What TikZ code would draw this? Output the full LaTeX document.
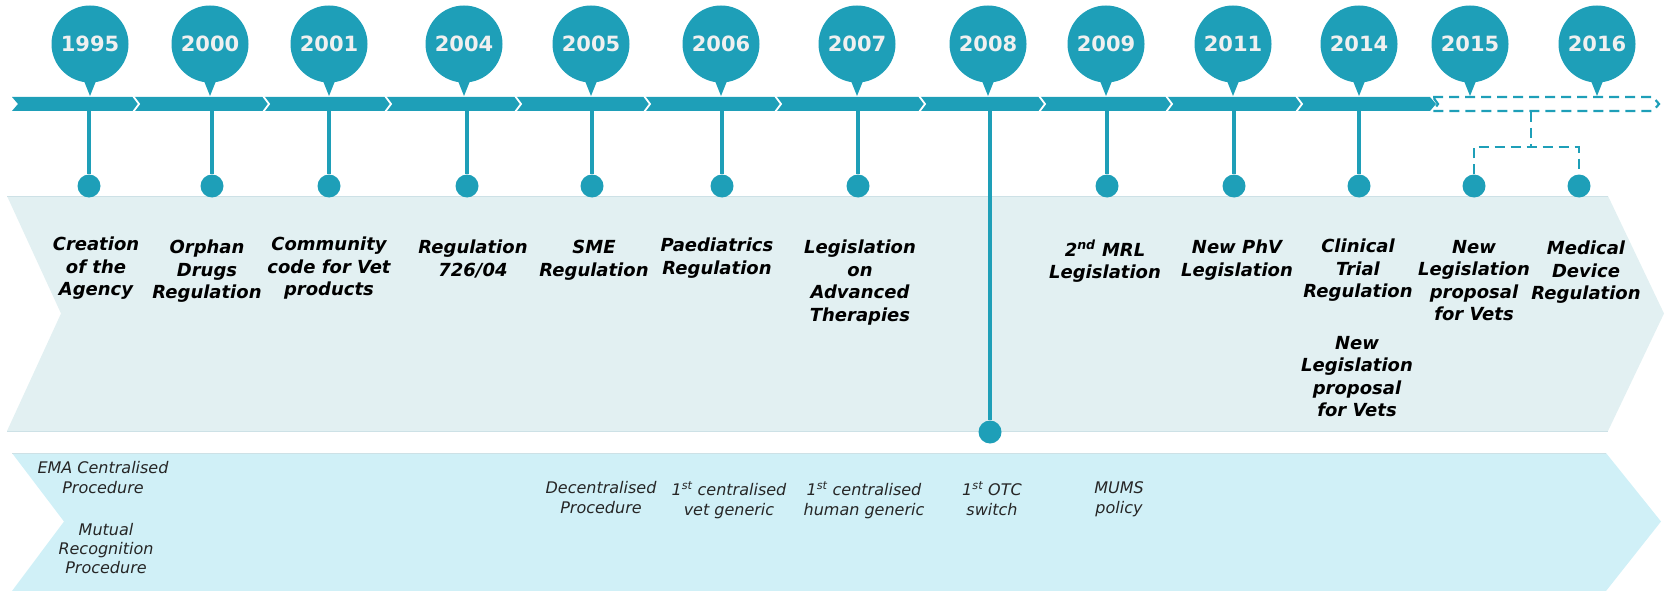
\documentclass[tikz,border=0pt]{standalone}
\usepackage{fontspec}
\setmainfont{DejaVu Sans}
\definecolor{tl}{RGB}{30,159,184}
\definecolor{bandA}{RGB}{226,240,242}
\definecolor{bandB}{RGB}{208,240,247}
\definecolor{bandline}{RGB}{205,225,230}
\newcommand{\yearfont}{\fontsize{21}{24}\selectfont\bfseries}
\newcommand{\evtfont}{\fontsize{18}{22.5}\selectfont\bfseries\itshape}
\newcommand{\procfont}{\fontsize{16}{20}\selectfont\itshape}
\tikzset{
  pinball/.style={circle, fill=tl, minimum size=77, inner sep=0, text=white!94!black, font=\yearfont},
  dotball/.style={circle, fill=tl, minimum size=23, inner sep=0},
  stemline/.style={draw=tl, line width=3.2},
  dashline/.style={draw=tl, line width=2.2, dash pattern=on 10 off 6},
  evt/.style={font=\evtfont, align=center, inner sep=0, anchor=north, text=black},
  proc/.style={font=\procfont, align=center, inner sep=0, anchor=north, text=black!85},
}
\begin{document}
\begin{tikzpicture}[x=1pt,y=-1pt]
\useasboundingbox (0,0) rectangle (1665,591);
% background bands
\fill[bandA] (7,196) -- (1608,196) -- (1664,313.5) -- (1608,431) -- (7,431) -- (61,313.5) -- cycle;
\draw[bandline, line width=1] (7,196) -- (1608,196);
\draw[bandline, line width=1] (7,431) -- (1608,431);
\fill[bandB] (12,453) -- (1606,453) -- (1661,521.5) -- (1606,591) -- (12,591) -- (64,521.5) -- cycle;
\draw[bandline, line width=1] (12,453) -- (1606,453);
% stems and dots
\foreach \yr/\dx in {1995/89,2000/212,2001/329,2004/467,2005/592,2006/722,2007/858,2009/1107,2011/1234,2014/1359}{
  \node[dotball] (d\yr) at (\dx,186) {};
  \coordinate (s\yr) at (\dx,111);
  \draw[stemline] (s\yr) -- (d\yr);
}
\node[dotball] (d2008) at (990,432) {};
\coordinate (s2008) at (990,111);
\draw[stemline] (s2008) -- (d2008);
% dashed future part
\node[dotball] (d2015) at (1474,186) {};
\node[dotball] (d2016) at (1579,186) {};
\coordinate (dtop) at (1531,112);
\coordinate (dmid) at (1531,147);
\coordinate (dl) at (1474,147);
\coordinate (dr) at (1579,147);
\draw[dashline] (dtop) -- (dmid);
\draw[dashline] (d2015) -- (dl) -- (dr) -- (d2016);
\draw[dashline] (1433,97) -- (1653,97) -- (1659,104) -- (1653,111) -- (1433,111) -- (1438,104) -- cycle;
% timeline strip
\fill[tl] (12,97) -- (1430,97) -- (1436,104) -- (1430,111) -- (12,111) -- (18,104) -- cycle;
\foreach \b in {133,263,385,515,644,775,919,1039,1166,1296}{
  \draw[white, line width=1.8] (\b,96) -- (\b+6,104) -- (\b,112);
}
% year pins
\foreach \yr/\px in {1995/90,2000/210,2001/329,2004/464,2005/591,2006/721,2007/857,2008/988,2009/1106,2011/1233,2014/1359,2015/1470,2016/1597}{
  \fill[tl] ({\px-8},76) -- ({\px+8},76) -- (\px,96) -- cycle;
  \node[pinball] (p\yr) at (\px,44) {\yr};
}
% event texts
\node[evt] (t1995) at (96,237) {Creation\\of the\\Agency};
\node[evt] (t2000) at (207,240) {Orphan\\Drugs\\Regulation};
\node[evt] (t2001) at (329,237) {Community\\code for Vet\\products};
\node[evt] (t2004) at (473,240) {Regulation\\726/04};
\node[evt] (t2005) at (594,240) {SME\\Regulation};
\node[evt] (t2006) at (717,238) {Paediatrics\\Regulation};
\node[evt] (t2007) at (860,240) {Legislation\\on\\Advanced\\Therapies};
\node[evt] (t2009) at (1105,240) {2\textsuperscript{nd} MRL\\Legislation};
\node[evt] (t2011) at (1237,240) {New PhV\\Legislation};
\node[evt] (t2014) at (1358,239) {Clinical\\Trial\\Regulation};
\node[evt] (t2014b) at (1357,336) {New\\Legislation\\proposal\\for Vets};
\node[evt] (t2015) at (1474,240) {New\\Legislation\\proposal\\for Vets};
\node[evt] (t2016) at (1586,241) {Medical\\Device\\Regulation};
% procedure texts
\node[proc] (q1) at (103,461) {EMA Centralised\\Procedure};
\node[proc, font=\fontsize{16}{19}\selectfont\itshape] (q2) at (106,523) {Mutual\\Recognition\\Procedure};
\node[proc] (q3) at (601,481) {Decentralised\\Procedure};
\node[proc] (q4) at (729,481) {1\textsuperscript{st} centralised\\vet generic};
\node[proc] (q5) at (864,481) {1\textsuperscript{st} centralised\\human generic};
\node[proc] (q6) at (992,481) {1\textsuperscript{st} OTC\\switch};
\node[proc] (q7) at (1119,481) {MUMS\\policy};
\end{tikzpicture}
\end{document}
